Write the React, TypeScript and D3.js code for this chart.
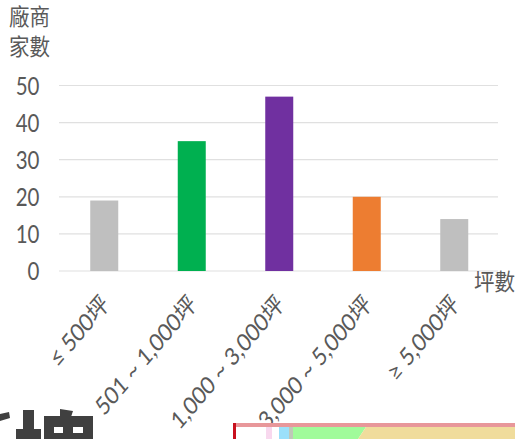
import * as d3 from "d3";

const categories = ["≤ 500坪", "501 ~ 1,000坪", "1,000 ~ 3,000坪", "3,000 ~ 5,000坪", "≥ 5,000坪"];
const counts = [19, 35, 47, 20, 14];
const barColors = ["#BFBFBF", "#00B050", "#7030A0", "#ED7D31", "#BFBFBF"];
const yTicks = [0, 10, 20, 30, 40, 50];

const width = 515;
const height = 439;
const marginLeft = 60.5;
const marginRight = 17;
const yZero = 271;
const yTop = 85.5;

const font = 'Lato, "Noto Sans CJK TC", sans-serif';
const cjkFont = '"Noto Sans CJK TC", sans-serif';
const textColor = "#595959";

const x = d3.scaleBand<string>()
  .domain(categories)
  .range([marginLeft, width - marginRight])
  .paddingInner(0.68)
  .paddingOuter(0.34);

const y = d3.scaleLinear().domain([0, 50]).range([yZero, yTop]);

export default function App() {
  return (
    <svg
      width={width}
      height={height}
      viewBox={`0 0 ${width} ${height}`}
      style={{ position: "absolute", left: 0, top: 0, background: "#fff" }}
    >
      {/* y axis title */}
      <g fill={textColor} fontFamily={cjkFont} fontSize={20.5}>
        <text transform="translate(9,25) scale(1,1.12)">廠商</text>
        <text transform="translate(9,55) scale(1,1.12)">家數</text>
      </g>

      {/* grid + y ticks */}
      {yTicks.map((t) => (
        <g key={t}>
          <line x1={59} x2={width - marginRight} y1={y(t)} y2={y(t)} stroke="#E0E0E0" strokeWidth={1.2} />
          <text
            transform={`translate(39.5,${y(t)}) scale(0.82,1.02)`}
            dy="0.36em"
            textAnchor="end"
            fill={textColor}
            fontFamily={font}
            fontSize={25}
          >
            {t}
          </text>
        </g>
      ))}

      {/* bars */}
      {categories.map((c, i) => (
        <rect
          key={c}
          x={x(c)}
          y={y(counts[i])}
          width={x.bandwidth()}
          height={y(0) - y(counts[i])}
          fill={barColors[i]}
        />
      ))}

      {/* x labels, stretched a bit taller like the source screenshot */}
      {categories.map((c) => (
        <text
          key={c}
          transform={`translate(${x(c)! + x.bandwidth() / 2 + 6},${306}) scale(1,1.18) rotate(-45)`}
          textAnchor="end"
          fill={textColor}
          fontFamily={font}
          fontSize={20.8}
        >
          {c}
        </text>
      ))}

      {/* x axis title */}
      <text transform="translate(474,290) scale(1,1.12)" fill={textColor} fontFamily={cjkFont} fontSize={20.5}>
        坪數
      </text>

      {/* cropped neighbours at the bottom of the screenshot */}
      <g fill="#404040">
        <path d="M0 414L9 412L10 418L0 421Z" />
        <rect x={23} y={410} width={11} height={20} />
        <rect x={16} y={429} width={25} height={10} />
        <path d="M60 409L73 411L71 417L60 417Z" />
        <path d="M44 416H93V439H44ZM54 427V433H63V427ZM73 427V433H83V427Z" fillRule="evenodd" />
      </g>
      <g>
        <rect x={236} y={427} width={44} height={12} fill="#fff" />
        <rect x={266} y={427} width={6} height={12} fill="#F8D8EE" />
        <rect x={279} y={427} width={10} height={12} fill="#9BE0FA" />
        <rect x={289} y={427} width={5} height={12} fill="#BFC7B8" />
        <path d="M293 427H366L358 439H293Z" fill="#A0FB9A" />
        <path d="M366 427H515V439H358Z" fill="#F0DC9C" />
        <rect x={233} y={423} width={282} height={4} fill="#E8979A" />
        <rect x={233} y={423} width={3} height={16} fill="#C8101E" />
      </g>
    </svg>
  );
}
